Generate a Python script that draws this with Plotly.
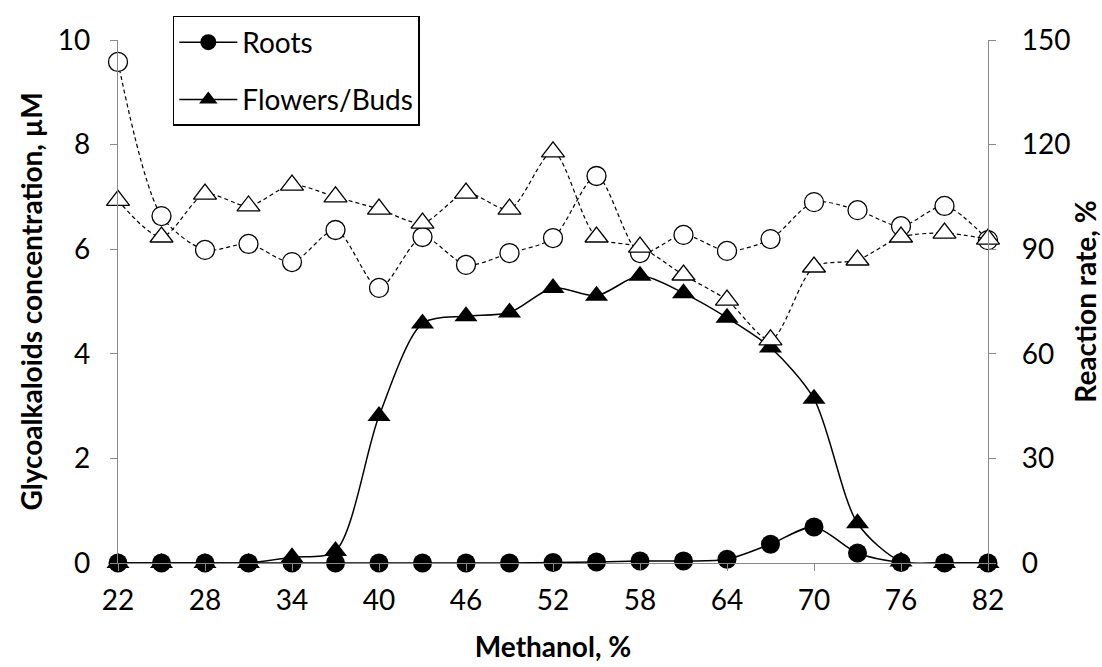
import plotly.graph_objects as go

# Methanol concentration in the extraction solvent, %
methanol = [22, 25, 28, 31, 34, 37, 40, 43, 46, 49, 52, 55, 58, 61, 64, 67, 70, 73, 76, 79, 82]

# Glycoalkaloid concentration, µM (left axis)
roots_conc = [0, 0, 0, 0, 0, 0, 0, 0, 0, 0, 0.01, 0.02, 0.04, 0.04, 0.07, 0.36, 0.69, 0.19, 0.01, 0, 0]
flowers_conc = [0, 0, 0, 0, 0.11, 0.23, 2.81, 4.58, 4.72, 4.79, 5.26, 5.11, 5.49, 5.16, 4.69, 4.12, 3.14, 0.76, 0.03, 0, 0]

# Reaction rate, % (right axis)
roots_rate = [143.7, 99.5, 89.8, 91.5, 86.3, 95.5, 78.9, 93.5, 85.5, 88.9, 93.2, 111.0,
              88.9, 94.1, 89.5, 92.9, 103.5, 101.2, 96.6, 102.4, 92.6]
flowers_rate = [104.0, 93.5, 105.8, 102.4, 108.4, 105.0, 101.5, 97.5, 106.1, 101.5, 117.9, 93.5,
                90.6, 82.6, 75.4, 64.0, 84.9, 86.9, 93.5, 94.6, 92.9]

FONT = "Lato, Calibri, Carlito, sans-serif"
AXIS_GREY = "#898989"
TICK_SIZE = 28
TITLE_SIZE = 28

fig = go.Figure()

# reaction rate series: open markers, dashed smoothed lines
fig.add_trace(go.Scatter(
    x=methanol, y=roots_rate, yaxis="y2", mode="lines+markers", showlegend=False,
    line=dict(color="black", width=1.2, dash="4px,3px", shape="spline", smoothing=0.8),
    marker=dict(symbol="circle", size=19, color="white", line=dict(color="black", width=1.3)),
    cliponaxis=False,
))
fig.add_trace(go.Scatter(
    x=methanol, y=flowers_rate, yaxis="y2", mode="lines+markers", showlegend=False,
    line=dict(color="black", width=1.2, dash="4px,3px", shape="spline", smoothing=0.8),
    marker=dict(symbol="triangle-up", size=20, color="white", line=dict(color="black", width=1.3)),
    cliponaxis=False,
))

# concentration series: filled markers, solid smoothed lines
fig.add_trace(go.Scatter(
    x=methanol, y=roots_conc, name="Roots", mode="lines+markers", legendgroup="a",
    line=dict(color="black", width=1.5, shape="spline", smoothing=0.8),
    marker=dict(symbol="circle", size=19, color="black"),
    cliponaxis=False,
))
fig.add_trace(go.Scatter(
    x=methanol, y=flowers_conc, name="Flowers/Buds", mode="lines+markers", legendgroup="b",
    line=dict(color="black", width=1.5, shape="spline", smoothing=0.8),
    marker=dict(symbol="triangle-up", size=20, color="black"),
    cliponaxis=False,
))

axis_common = dict(
    showline=True, linecolor=AXIS_GREY, linewidth=1.3,
    ticks="outside", ticklen=7, tickcolor=AXIS_GREY, tickwidth=1.3,
    showgrid=False, zeroline=False, automargin=False,
    tickfont=dict(size=TICK_SIZE),
)

fig.update_layout(
    width=1102, height=667,
    margin=dict(l=118, r=114, t=40, b=104),
    paper_bgcolor="white", plot_bgcolor="white",
    font=dict(family=FONT, size=TICK_SIZE, color="black"),
    xaxis=dict(
        range=[22, 82], tickmode="array", tickvals=list(range(22, 83, 6)),
        ticklabelstandoff=5,
        title=dict(text="<b>Methanol, %</b>", font=dict(size=TITLE_SIZE), standoff=22),
        **axis_common,
    ),
    yaxis=dict(
        range=[0, 10], tickmode="array", tickvals=[0, 2, 4, 6, 8, 10],
        ticklabelstandoff=14,
        title=dict(text="<b>Glycoalkaloids concentration, µM</b>", font=dict(size=TITLE_SIZE), standoff=6),
        **axis_common,
    ),
    yaxis2=dict(
        range=[0, 150], tickmode="array", tickvals=[0, 30, 60, 90, 120, 150],
        overlaying="y", side="right",
        ticklabelstandoff=20,
        title=dict(text="<b>Reaction rate, %</b>", font=dict(size=TITLE_SIZE), standoff=8),
        **axis_common,
    ),
    legend=dict(
        x=0.063, y=1.046, xanchor="left", yanchor="top",
        bgcolor="white", bordercolor="black", borderwidth=1.5,
        font=dict(size=28), tracegroupgap=18, traceorder="grouped",
        itemwidth=58,
    ),
)

fig.write_html("out.html")
